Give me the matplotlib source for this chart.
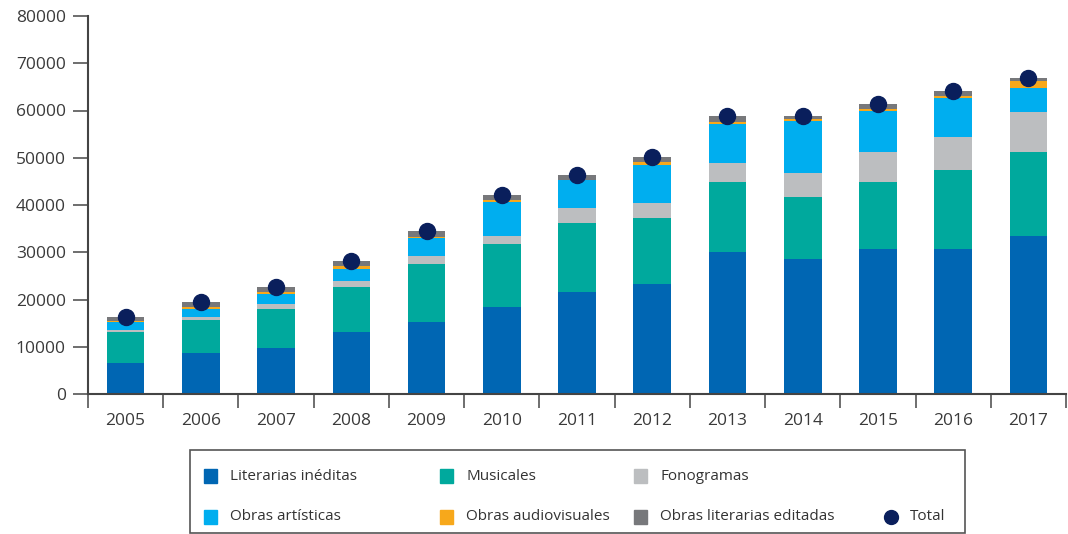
import matplotlib
matplotlib.use("Agg")
import matplotlib.pyplot as plt
import numpy as np
from matplotlib.patches import Rectangle
from matplotlib import font_manager

plt.rcParams['font.family'] = ['Open Sans', 'DejaVu Sans']

years = ['2005', '2006', '2007', '2008', '2009', '2010', '2011', '2012',
         '2013', '2014', '2015', '2016', '2017']
literarias_ineditas = [6600, 8700, 9700, 13100, 15200, 18400, 21600, 23300, 30000, 28600, 30700, 30700, 33400]
musicales = [6500, 6950, 8250, 9550, 12300, 13300, 14600, 13950, 14850, 13100, 14150, 16700, 17800]
fonogramas = [450, 650, 1050, 1250, 1700, 1700, 3150, 3150, 4000, 5100, 6350, 7000, 8450]
obras_artisticas = [1750, 1700, 2200, 2550, 3850, 7200, 5900, 8050, 8350, 11000, 8700, 8250, 5100]
obras_audiovisuales = [100, 400, 350, 650, 100, 450, 100, 650, 400, 400, 500, 500, 1500]
obras_literarias_editadas = [1000, 1050, 1050, 1050, 1350, 1050, 1050, 1050, 1200, 650, 1050, 1000, 650]

labels = ['Literarias inéditas', 'Musicales', 'Fonogramas', 'Obras artísticas',
          'Obras audiovisuales', 'Obras literarias editadas', 'Total']
colors = ['#0066B3', '#00A99D', '#BCBEC0', '#00AEEF', '#F7A81B', '#77787B', '#0A1F5C']

series = [literarias_ineditas, musicales, fonogramas, obras_artisticas,
          obras_audiovisuales, obras_literarias_editadas]

available = {f.name for f in font_manager.fontManager.ttflist}
if 'Liberation Sans Narrow' in available:
    legend_family = ['Liberation Sans Narrow', 'DejaVu Sans']
    legend_size = 12.5
else:
    legend_family = ['Open Sans', 'DejaVu Sans']
    legend_size = 11

W, H = 1068, 534
fig = plt.figure(figsize=(W / 100, H / 100), dpi=100)
ax = fig.add_axes([88 / W, 1 - 394 / H, (1066 - 88) / W, (394 - 16) / H])

x = np.arange(len(years))
bottom = np.zeros(len(years))
for vals, c in zip(series, colors[:6]):
    ax.bar(x, vals, width=0.5, bottom=bottom, color=c, zorder=2)
    bottom += np.array(vals)
ax.plot(x, bottom, 'o', color=colors[6], markersize=11.5, zorder=3, linestyle='none')

ax.set_xlim(-0.5, len(years) - 0.5)
ax.set_ylim(0, 80000)
ax.set_yticks(np.arange(0, 80001, 10000))
ax.set_yticklabels([str(v) for v in range(0, 80001, 10000)])
ax.set_xticks(x)
ax.set_xticklabels(years)
ax.set_xticks(np.arange(-0.5, len(years), 1), minor=True)
ax.tick_params(axis='x', which='major', length=0, pad=14, labelsize=12.5, labelcolor='#3a3a3a')
ax.tick_params(axis='x', which='minor', length=10, width=1.2, color='#555555', direction='out')
ax.tick_params(axis='y', length=11, width=1.2, color='#555555', pad=5, labelsize=12.5, labelcolor='#3a3a3a')
for s in ['top', 'right']:
    ax.spines[s].set_visible(False)
for s in ['left', 'bottom']:
    ax.spines[s].set_color('#444444')
    ax.spines[s].set_linewidth(1.5)

# legend panel
lax = fig.add_axes([0, 0, 1, 1], zorder=5)
lax.set_xlim(0, W)
lax.set_ylim(H, 0)
lax.axis('off')
lax.add_patch(Rectangle((190, 450), 775, 83, fill=False, edgecolor='#555555', lw=1.2))
pos = [(204, 476), (440, 476), (634, 476), (204, 517), (440, 517), (634, 517), (884, 517)]
for i, (lab, c, (px, py)) in enumerate(zip(labels, colors, pos)):
    if i < 6:
        lax.add_patch(Rectangle((px, py - 7), 13, 14, color=c))
    else:
        lax.plot(px + 7, py, 'o', color=c, markersize=10)
    lax.text(px + 26, py, lab, va='center', ha='left', fontsize=legend_size,
             color='#333333', family=legend_family)

fig.savefig('out.png', dpi=100)
